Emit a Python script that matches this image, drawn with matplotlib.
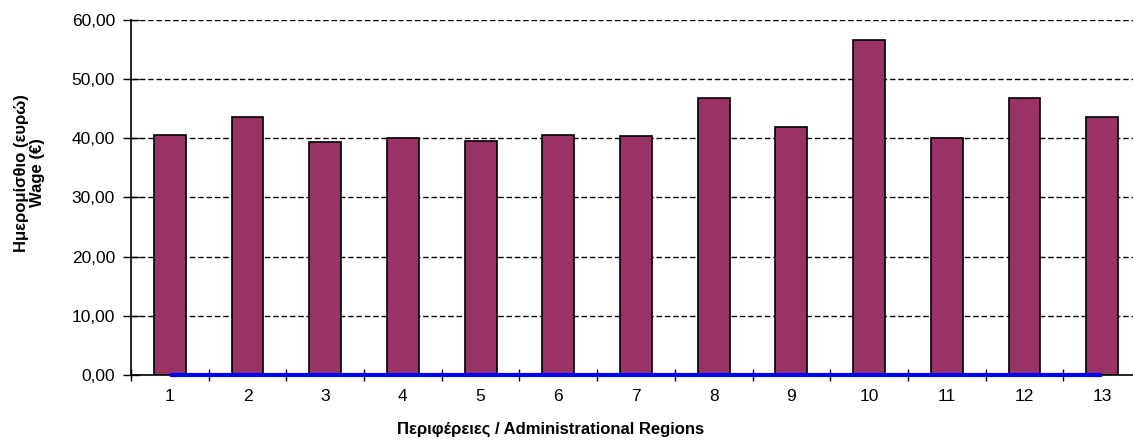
import matplotlib
matplotlib.use("Agg")
from matplotlib import pyplot as plt
from matplotlib.ticker import FuncFormatter, MultipleLocator
import numpy as np

plt.rcParams['font.family'] = ['Liberation Sans', 'DejaVu Sans']

regions = list(range(1, 14))
wages = [40.6, 43.6, 39.3, 40.1, 39.6, 40.6, 40.4, 46.7, 41.8, 56.5, 40.1, 46.7, 43.5]
zero_line = [0.0] * 13

fig = plt.figure(figsize=(11.33, 4.41), dpi=100)
ax = fig.add_axes([131 / 1133, 1 - 375 / 441, 1010 / 1133, 355.3 / 441])

x = np.array(regions)
ax.bar(x, wages, width=0.41, color='#993366', edgecolor='black', linewidth=1.2, zorder=2)
ax.plot(x, zero_line, color='#0000ff', linewidth=3, zorder=3, solid_capstyle='butt', clip_on=False)

ax.set_xlim(0.5, 13.5)
ax.set_ylim(0, 60)
ax.yaxis.set_major_locator(MultipleLocator(10))
ax.yaxis.set_major_formatter(FuncFormatter(lambda v, p: '{0:.2f}'.format(v).replace('.', ',')))
ax.yaxis.grid(True, color='black', linestyle=(0, (4, 2)), linewidth=1)
ax.set_axisbelow(True)

# category labels at centres, tick marks at boundaries
ax.set_xticks(x)
ax.set_xticklabels([str(r) for r in regions])
ax.set_xticks(np.arange(0.5, 14, 1), minor=True)
ax.tick_params(axis='x', which='major', length=0, pad=10, labelsize=12.5)
ax.tick_params(axis='x', which='minor', direction='inout', length=9, width=1)
ax.tick_params(axis='y', direction='inout', length=12, width=1, labelsize=12.5, pad=5.5)

ax.spines['top'].set_visible(False)
ax.spines['right'].set_visible(False)
ax.spines['left'].set_linewidth(1.2)
ax.spines['bottom'].set_linewidth(1.2)

fig.text(29.5 / 1133, 1 - 173 / 441, 'Ημερομίσθιο (ευρώ)\nWage (€)', rotation=90,
         ha='center', va='center', multialignment='center',
         fontsize=12, fontweight='bold', linespacing=1.15)
fig.text(551 / 1133, 1 - 429 / 441, 'Περιφέρειες / Administrational Regions',
         ha='center', va='center', fontsize=12, fontweight='bold')

fig.savefig('out.png', dpi=100, facecolor='white')
